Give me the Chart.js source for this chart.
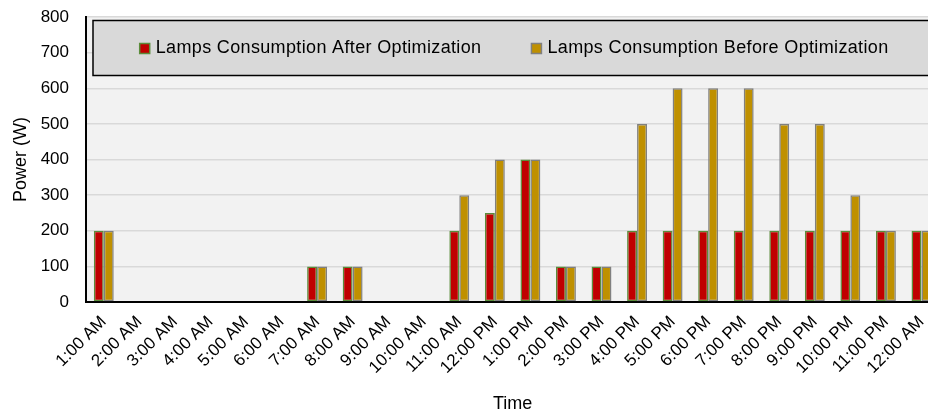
<!DOCTYPE html>
<html>
<head>
<meta charset="utf-8">
<script src="https://cdn.jsdelivr.net/npm/chart.js@4.4.1/dist/chart.umd.min.js"></script>
<style>
    html, body { margin: 0; padding: 0; background: #fff; overflow: hidden; }
    #wrap { width: 946px; height: 417px; position: relative; }
</style>
</head>
<body>
<div id="wrap"><canvas id="lampChart"></canvas></div>
<script>
// Hourly lamp power (W)
const hours = ['1:00 AM', '2:00 AM', '3:00 AM', '4:00 AM', '5:00 AM', '6:00 AM', '7:00 AM', '8:00 AM',
    '9:00 AM', '10:00 AM', '11:00 AM', '12:00 PM', '1:00 PM', '2:00 PM', '3:00 PM', '4:00 PM',
    '5:00 PM', '6:00 PM', '7:00 PM', '8:00 PM', '9:00 PM', '10:00 PM', '11:00 PM', '12:00 AM'];
const afterOptimization = [200, 0, 0, 0, 0, 0, 100, 100, 0, 0, 200, 250, 400, 100, 100, 200,
    200, 200, 200, 200, 200, 200, 200, 200];
const beforeOptimization = [200, 0, 0, 0, 0, 0, 100, 100, 0, 0, 300, 400, 400, 100, 100, 500,
    600, 600, 600, 500, 500, 300, 200, 200];
const yTicks = [0, 100, 200, 300, 400, 500, 600, 700, 800];

const FONT = 'Liberation Sans, Arial, sans-serif';

// plot background drawn under the grid
const plotBackground = {
    id: 'plotBackground',
    beforeDraw(chart) {
        const { ctx, chartArea } = chart;
        ctx.save();
        ctx.fillStyle = '#f2f2f2';
        ctx.fillRect(chartArea.left, chartArea.top, chartArea.right - chartArea.left, chartArea.bottom - chartArea.top);
        ctx.restore();
    }
};

// Excel-like legend box sitting inside the plot area
const legendBox = {
    id: 'legendBox',
    afterDraw(chart) {
        const { ctx, chartArea } = chart;
        const x = chartArea.left + 7;
        const y = chartArea.top + 3.5;
        const w = chartArea.right - x + 20;
        const h = 55;
        ctx.save();
        ctx.fillStyle = '#d9d9d9';
        ctx.fillRect(x, y, w, h);
        ctx.strokeStyle = '#000';
        ctx.lineWidth = 1.5;
        ctx.strokeRect(x, y, w, h);

        ctx.font = '18px ' + FONT;
        ctx.letterSpacing = '0.35px';
        ctx.textBaseline = 'middle';
        const items = chart.data.datasets.map(ds => ({
            text: ds.label,
            fill: ds.backgroundColor,
            stroke: ds.legendBorder,
            width: 16 + ctx.measureText(ds.label).width
        }));
        const gap = 50;
        const total = items.reduce((s, it) => s + it.width, 0) + gap * (items.length - 1);
        let cx = (x + chartArea.right) / 2 - total / 2 - 2;
        const cy = y + h / 2 + 0.5;
        items.forEach(it => {
            ctx.fillStyle = it.fill;
            ctx.fillRect(cx, cy - 5, 10, 10);
            ctx.strokeStyle = it.stroke;
            ctx.lineWidth = 1.5;
            ctx.strokeRect(cx, cy - 5, 10, 10);
            ctx.fillStyle = '#000';
            ctx.fillText(it.text, cx + 16, cy);
            cx += it.width + gap;
        });
        ctx.restore();
    }
};

const noZeroBorder = c => (c.raw === 0 ? 0 : 1.5);

new Chart(document.getElementById('lampChart'), {
    type: 'bar',
    data: {
        labels: hours,
        datasets: [{
            label: 'Lamps Consumption After Optimization',
            data: afterOptimization,
            backgroundColor: '#c00000',
            borderColor: '#5b8c3a',
            legendBorder: '#5b8c3a',
            borderWidth: noZeroBorder,
            borderSkipped: false,
            barPercentage: 1.0,
            categoryPercentage: 0.56
        }, {
            label: 'Lamps Consumption Before Optimization',
            data: beforeOptimization,
            backgroundColor: '#bf9000',
            borderColor: '#808080',
            legendBorder: '#808080',
            borderWidth: noZeroBorder,
            borderSkipped: false,
            barPercentage: 1.0,
            categoryPercentage: 0.56
        }]
    },
    options: {
        responsive: true,
        maintainAspectRatio: false,
        animation: false,
        layout: { padding: { top: 17, right: 5, left: 0, bottom: 2 } },
        plugins: {
            legend: { display: false },
            tooltip: { enabled: false }
        },
        scales: {
            x: {
                afterFit: scale => { scale.height = 113; },
                grid: { display: false, drawTicks: false },
                border: { color: '#000', width: 2 },
                ticks: {
                    color: '#000',
                    font: { family: FONT, size: 17 },
                    minRotation: 45,
                    maxRotation: 45,
                    autoSkip: false,
                    padding: 10
                },
                title: {
                    display: true,
                    text: 'Time',
                    color: '#000',
                    font: { family: FONT, size: 18 },
                    padding: { top: 0, bottom: 0 }
                }
            },
            y: {
                min: 0,
                max: 800,
                afterFit: scale => {
                    scale.width = 86;
                    scale.paddingTop = 0;
                    scale.paddingBottom = 0;
                },
                afterBuildTicks: scale => { scale.ticks = yTicks.map(v => ({ value: v })); },
                grid: { color: '#d9d9d9', lineWidth: 1.5, drawTicks: false },
                border: { color: '#000', width: 2 },
                ticks: {
                    color: '#000',
                    font: { family: FONT, size: 17 },
                    padding: 17
                },
                title: {
                    display: true,
                    text: 'Power (W)',
                    color: '#000',
                    font: { family: FONT, size: 18 },
                    padding: { top: 10, bottom: 0 }
                }
            }
        }
    },
    plugins: [plotBackground, legendBox]
});
</script>
</body>
</html>
